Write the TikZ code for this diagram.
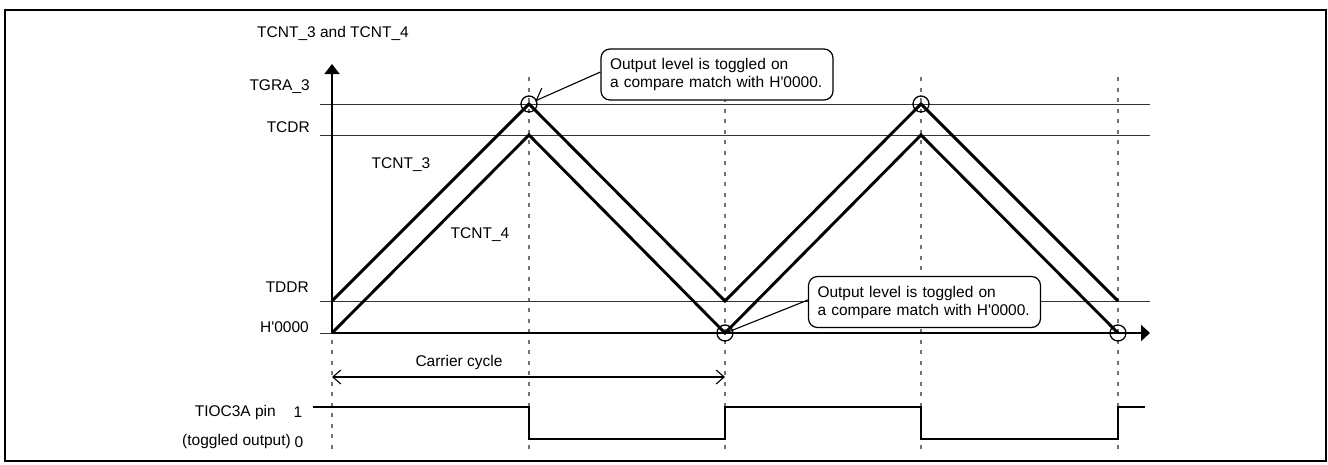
\documentclass[tikz,border=0pt]{standalone}
\usepackage{fontspec}
\setmainfont{Liberation Sans}[Ligatures=TeXOff]
\usetikzlibrary{arrows.meta}
\begin{document}
\begin{tikzpicture}[x=1pt,y=-1pt,
  font=\fontsize{15.5}{18}\selectfont,
  lbl/.style={inner sep=0pt},
  guide/.style={draw=black!55, line width=1.1pt, dash pattern=on 4pt off 6.5pt},
  reflevel/.style={draw=black!80, line width=1pt},
  count/.style={line width=2.9pt, line join=miter},
  hitcircle/.style={draw, line width=1.3pt},
  callout/.style={draw, line width=1.2pt, rounded corners=9pt, fill=white, align=left,
    text width=214pt, inner xsep=9pt, inner ysep=0pt, minimum height=51pt},
  leader/.style={line width=1.1pt},
  wave/.style={line width=2.9pt, line join=miter},
]
\useasboundingbox (0,0) rectangle (1328,464);

% key points
\coordinate (O) at (332,333);
\coordinate (ytop) at (332,64);
\coordinate (xend) at (1150,333);
\coordinate (pk1) at (529,104);
\coordinate (vl1) at (725,333);
\coordinate (pk2) at (921,104);
\coordinate (vl2) at (1118,333);

% dashed guides
\foreach \x in {332,529,725,921,1118}
  \draw[guide] (\x,77) -- (\x,453);

% reference levels
\draw[reflevel] (320,104) -- (1150,104);
\draw[reflevel] (320,135) -- (1150,135);
\draw[reflevel] (320,301) -- (1150,301);
\draw[reflevel] (320,333) -- (O);

% axes
\draw[line width=1.6pt, -{Triangle[length=10pt,width=15pt]}] (O) -- (ytop);
\draw[line width=2.2pt, -{Triangle[length=9pt,width=16pt]}] (O) -- (xend);

% counters
\draw[count] (332,301) -- (529,104) -- (725,301) -- (921,104) -- (1118,301);
\draw[count] (332,333) -- (529,135) -- (725,333) -- (921,135) -- (1118,333);

% compare-match circles
\draw[hitcircle] (pk1) circle (8);
\draw[hitcircle] (vl1) circle (8);
\draw[hitcircle] (pk2) circle (8);
\draw[hitcircle] (vl2) circle (8);

% level labels
\node[lbl, anchor=east] (lTGRA) at (310,87) {TGRA\_3};
\node[lbl, anchor=east] (lTCDR) at (310,127) {TCDR};
\node[lbl, anchor=east] (lTDDR) at (309,287) {TDDR};
\node[lbl, anchor=east] (lH) at (309,327) {H'0000};
\node[lbl, anchor=west] (ylab) at (257,33) {TCNT\_3 and TCNT\_4};
\node[lbl] (n3) at (401,165) {TCNT\_3};
\node[lbl] (n4) at (480,235) {TCNT\_4};

% callouts
\node[callout] (c1) at (717,74.5) {Output level is toggled on\\a compare match with H'0000.};
\node[callout] (c2) at (924.5,302) {Output level is toggled on\\a compare match with H'0000.};
\coordinate (tip1) at (535,101);
\coordinate (tip2) at (728,332);
\draw[leader, -{Straight Barb[harpoon,swap,length=10pt,width=18pt]}] ([yshift=2.5pt]c1.west) -- (tip1);
\draw[leader] ([yshift=2pt]c2.west) -- (tip2);

% carrier cycle
\coordinate (cc0) at (332,377);
\coordinate (cc1) at (725,377);
\draw[line width=1.1pt, {Straight Barb[length=8pt,width=14pt]}-{Straight Barb[length=8pt,width=14pt]}] (cc0) -- (cc1);
\node[lbl] (cct) at (459,362) {Carrier cycle};

% output waveform
\draw[wave] (313,407) -- (529,407) -- (529,439) -- (725,439) -- (725,407)
  -- (921,407) -- (921,439) -- (1118,439) -- (1118,407) -- (1145,407);
\node[lbl, anchor=east] (pin) at (276,412) {TIOC3A pin};
\node[lbl] (one) at (298,412) {1};
\node[lbl, anchor=east] (tog) at (291,441) {(toggled output)};
\node[lbl] (zero) at (299,442) {0};

% frame
\draw[line width=2.5pt] (5,10) rectangle (1326,461);
\end{tikzpicture}
\end{document}
